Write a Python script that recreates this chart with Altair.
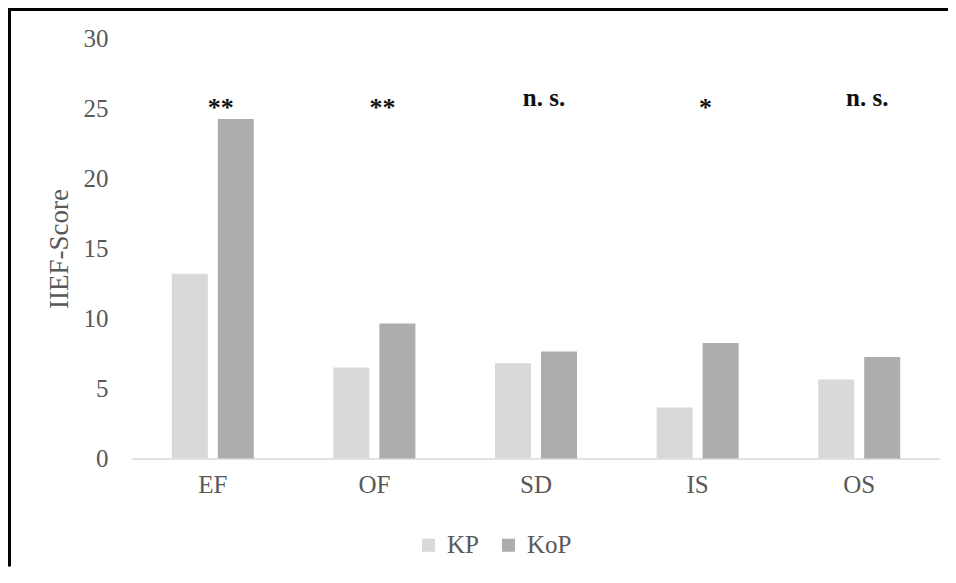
import altair as alt
import pandas as pd

categories = ["EF", "OF", "SD", "IS", "OS"]
groups = ["KP", "KoP"]
kp_values = [13.2, 6.5, 6.8, 3.65, 5.65]
kop_values = [24.25, 9.65, 7.65, 8.25, 7.25]
significance = ["**", "**", "n. s.", "*", "n. s."]
y_ticks = [0, 5, 10, 15, 20, 25, 30]
colors = ["#d9d9d9", "#adadad"]

rows = []
for c, a, b in zip(categories, kp_values, kop_values):
    rows.append({"cat": c, "group": "KP", "value": a})
    rows.append({"cat": c, "group": "KoP", "value": b})
bars_df = pd.DataFrame(rows)
sig_df = pd.DataFrame({"cat": categories, "sig": significance})
one = pd.DataFrame({"k": [0]})

W, H = 808, 420
SERIF = "Liberation Serif"
GRAY = "#595959"

x_enc = alt.X("cat:N", sort=categories,
              scale=alt.Scale(paddingInner=0.4926, paddingOuter=0.2463),
              axis=alt.Axis(title=None, labelAngle=0, labelFont=SERIF, labelFontSize=25,
                            labelColor=GRAY, labelPadding=14, ticks=False,
                            domainColor="#d9d9d9", domainWidth=1.5))

bars = alt.Chart(bars_df).mark_bar().encode(
    x=x_enc,
    xOffset=alt.XOffset("group:N", sort=groups,
                        scale=alt.Scale(paddingInner=0.217, paddingOuter=0)),
    y=alt.Y("value:Q", scale=alt.Scale(domain=[0, 30], nice=False),
            axis=alt.Axis(values=y_ticks, title="IIEF-Score", grid=False, domain=False,
                          ticks=False, labelFont=SERIF, labelFontSize=25, labelColor=GRAY,
                          labelPadding=24, titleFont=SERIF, titleFontSize=27,
                          titleFontWeight="normal", titleColor=GRAY,
                          titleX=-65, titleY=210, titleBaseline="alphabetic")),
    color=alt.Color("group:N", sort=groups,
                    scale=alt.Scale(domain=groups, range=colors),
                    legend=alt.Legend(title=None, orient="none", legendX=284, legendY=494,
                                      direction="horizontal", symbolType="square",
                                      symbolSize=170, symbolStrokeWidth=0,
                                      labelFont=SERIF, labelFontSize=25, labelColor=GRAY,
                                      labelOffset=6, columnPadding=17)),
)

ns_text = alt.Chart(sig_df).transform_filter(
    "indexof(datum.sig, 'n') >= 0"
).mark_text(font=SERIF, fontWeight="bold", fontSize=25, color="#111111",
            baseline="alphabetic", dx=8).encode(
    x=alt.X("cat:N", sort=categories),
    y=alt.datum(25.2),
    text="sig:N",
)

star_text = alt.Chart(sig_df).transform_filter(
    "indexof(datum.sig, 'n') < 0"
).mark_text(font=SERIF, fontWeight="bold", fontSize=26, color="#111111",
            baseline="alphabetic", dx=8, dy=10).encode(
    x=alt.X("cat:N", sort=categories),
    y=alt.datum(25.2),
    text="sig:N",
)

left_border = alt.Chart(one).mark_rule(color="#000000", strokeWidth=3).encode(
    x=alt.value(-122.5), y=alt.value(-30.5), y2=alt.value(H + 108)
)
top_border = alt.Chart(one).mark_rule(color="#000000", strokeWidth=3).encode(
    x=alt.value(-124), x2=alt.value(W + 8), y=alt.value(-29)
)

chart = alt.layer(bars, ns_text, star_text, left_border, top_border).properties(
    width=W, height=H,
    background="white",
    autosize=alt.AutoSizeParams(type="none"),
    padding={"left": 124, "top": 30.5, "right": 8, "bottom": 108},
).configure_view(stroke=None, strokeWidth=0)

chart.save("out.html", embed_options={"renderer": "svg", "actions": False})
